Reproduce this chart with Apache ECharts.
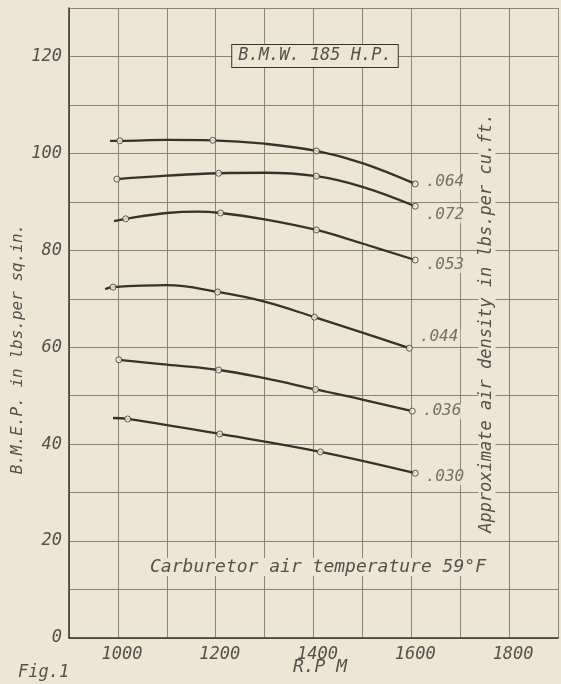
<!DOCTYPE html>
<html>
<head>
<meta charset="utf-8">
<script src="https://cdn.jsdelivr.net/npm/echarts@6/dist/echarts.min.js"></script>
<style>
html,body{margin:0;padding:0;background:#eee6d5;}
#c{width:561px;height:684px;}
</style>
</head>
<body>
<div id="c"></div>
<script>
// ---- data ----
const densityLabels = ['.064', '.072', '.053', '.044', '.036', '.030'];

const rpm064 = [984, 1004, 1100, 1194, 1300, 1406, 1500, 1608];
const bmep064 = [102.6, 102.6, 102.8, 102.7, 102.0, 100.5, 98.0, 93.7];
const markRpm064 = [1004, 1194, 1406, 1608];
const markBmep064 = [102.6, 102.7, 100.5, 93.7];

const rpm072 = [998, 1100, 1206, 1300, 1406, 1500, 1608];
const bmep072 = [94.7, 95.4, 95.9, 96.0, 95.3, 93.1, 89.1];
const markRpm072 = [998, 1206, 1406, 1608];
const markBmep072 = [94.7, 95.9, 95.3, 89.1];

const rpm053 = [992, 1016, 1100, 1165, 1210, 1300, 1406, 1500, 1608];
const bmep053 = [86.0, 86.5, 87.7, 88.0, 87.7, 86.4, 84.2, 81.4, 78.0];
const markRpm053 = [1016, 1210, 1406, 1608];
const markBmep053 = [86.5, 87.7, 84.2, 78.0];

const rpm044 = [974, 990, 1100, 1204, 1300, 1402, 1500, 1596];
const bmep044 = [72.0, 72.4, 72.8, 71.4, 69.4, 66.2, 63.0, 59.8];
const markRpm044 = [990, 1204, 1402, 1596];
const markBmep044 = [72.4, 71.4, 66.2, 59.8];

const rpm036 = [1002, 1100, 1206, 1300, 1404, 1500, 1602];
const bmep036 = [57.4, 56.4, 55.3, 53.6, 51.3, 49.2, 46.8];
const markRpm036 = [1002, 1206, 1404, 1602];
const markBmep036 = [57.4, 55.3, 51.3, 46.8];

const rpm030 = [990, 1020, 1208, 1414, 1608];
const bmep030 = [45.4, 45.2, 42.1, 38.4, 34.0];
const markRpm030 = [1020, 1208, 1414, 1608];
const markBmep030 = [45.2, 42.1, 38.4, 34.0];

const xTickLabels = [1000, 1200, 1400, 1600, 1800];
const yTickLabels = [0, 20, 40, 60, 80, 100, 120];

const titleText = 'B.M.W. 185 H.P.';
const yTitle = 'B.M.E.P. in lbs.per sq.in.';
const xTitle = 'R.P M';
const rightTitle = 'Approximate air density in lbs.per cu.ft.';
const noteText = 'Carburetor air temperature 59°F';
const figText = 'Fig.1';

// ---- styling ----
const PAPER = '#eee6d5';
const INK = '#36342a';
const TEXT = '#55514a';
const GRID = '#8a8478';
const FONT = '"DejaVu Sans Mono", monospace';
const labelOffsets = [[0, -2], [0, 9], [0, 5], [0, -11], [0, 0], [0, 4]];

const curves = [
  [rpm064, bmep064, markRpm064, markBmep064],
  [rpm072, bmep072, markRpm072, markBmep072],
  [rpm053, bmep053, markRpm053, markBmep053],
  [rpm044, bmep044, markRpm044, markBmep044],
  [rpm036, bmep036, markRpm036, markBmep036],
  [rpm030, bmep030, markRpm030, markBmep030]
];

const zip = (xs, ys) => xs.map((x, i) => [x, ys[i]]);

const series = [];
curves.forEach((c, k) => {
  series.push({
    type: 'line',
    data: zip(c[0], c[1]),
    smooth: 0.4,
    showSymbol: false,
    symbol: 'none',
    lineStyle: { color: INK, width: 2.3 },
    z: 3,
    silent: true
  });
  const pts = zip(c[2], c[3]);
  series.push({
    type: 'scatter',
    data: pts.map((p, i) => i === pts.length - 1 ? {
      value: p,
      label: {
        show: true,
        formatter: densityLabels[k],
        position: 'right',
        distance: 5,
        offset: labelOffsets[k],
        fontFamily: FONT,
        fontStyle: 'italic',
        fontSize: 16,
        color: TEXT,
        backgroundColor: PAPER,
        padding: [0, 2]
      }
    } : p),
    symbol: 'circle',
    symbolSize: 6,
    itemStyle: { color: '#f6f1e6', borderColor: INK, borderWidth: 1 },
    z: 4,
    silent: true
  });
});

const chart = echarts.init(document.getElementById('c'), null, { renderer: 'canvas' });
chart.setOption({
  animation: false,
  backgroundColor: PAPER,
  grid: { left: 69, right: 0, top: 8, bottom: 46, containLabel: false },
  xAxis: {
    type: 'value', min: 900, max: 1900, interval: 100,
    axisLine: { show: true, lineStyle: { color: INK, width: 1.5 } },
    axisTick: { show: false },
    splitLine: { show: true, lineStyle: { color: GRID, width: 1 } },
    axisLabel: {
      margin: 8,
      padding: [0, 0, 0, 8],
      fontFamily: FONT, fontStyle: 'italic', fontSize: 17, color: TEXT,
      formatter: v => xTickLabels.indexOf(v) >= 0 ? String(v) : ''
    }
  },
  yAxis: {
    type: 'value', min: 0, max: 130, interval: 10,
    axisLine: { show: true, lineStyle: { color: INK, width: 1.5 } },
    axisTick: { show: false },
    splitLine: { show: true, lineStyle: { color: GRID, width: 1 } },
    axisLabel: {
      margin: 7,
      fontFamily: FONT, fontStyle: 'italic', fontSize: 17, color: TEXT,
      formatter: v => yTickLabels.indexOf(v) >= 0 ? String(v) : ''
    }
  },
  series: series,
  graphic: [
    {
      type: 'text', x: 315, y: 56, z: 10,
      style: {
        text: titleText, font: 'italic 17px ' + FONT, fill: TEXT,
        align: 'center', verticalAlign: 'middle',
        backgroundColor: PAPER, borderColor: INK, borderWidth: 1, padding: [3, 6, 2, 6]
      }
    },
    {
      type: 'text', x: 318, y: 567, z: 10,
      style: {
        text: noteText, font: 'italic 18px ' + FONT, fill: TEXT,
        align: 'center', verticalAlign: 'middle',
        backgroundColor: PAPER, padding: [0, 3]
      }
    },
    {
      type: 'text', x: 487, y: 323, rotation: Math.PI / 2, z: 10,
      style: {
        text: rightTitle, font: 'italic 17px ' + FONT, fill: TEXT,
        align: 'center', verticalAlign: 'middle',
        backgroundColor: PAPER, padding: [0, 3]
      }
    },
    {
      type: 'text', x: 18, y: 349, rotation: Math.PI / 2, z: 10,
      style: {
        text: yTitle, font: 'italic 16px ' + FONT, fill: TEXT,
        align: 'center', verticalAlign: 'middle'
      }
    },
    {
      type: 'text', x: 320, y: 667, z: 10,
      style: {
        text: xTitle, font: 'italic 18px ' + FONT, fill: TEXT,
        align: 'center', verticalAlign: 'middle'
      }
    },
    {
      type: 'text', x: 18, y: 673, z: 10,
      style: {
        text: figText, font: 'italic 17px ' + FONT, fill: TEXT,
        align: 'left', verticalAlign: 'middle'
      }
    }
  ]
});
</script>
</body>
</html>
